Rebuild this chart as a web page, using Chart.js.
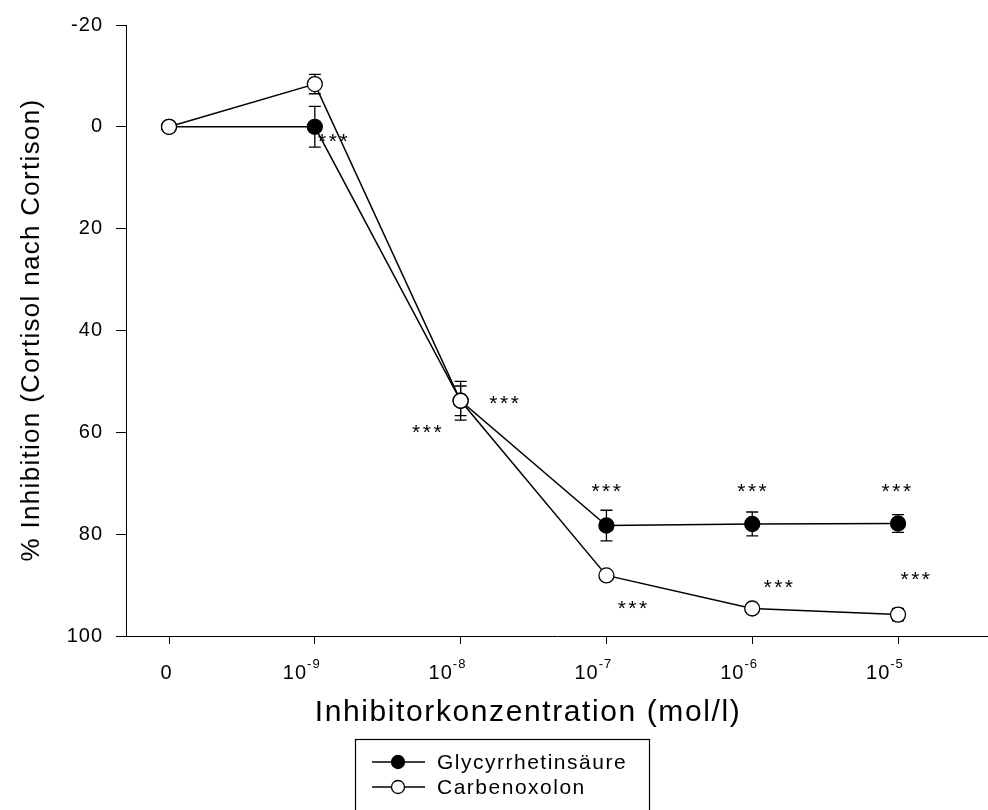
<!DOCTYPE html>
<html>
<head>
<meta charset="utf-8">
<script src="https://cdn.jsdelivr.net/npm/chart.js@4.4.0/dist/chart.umd.min.js"></script>
<style>
  body { margin: 0; background: #fff; }
  #wrap { width: 988px; height: 810px; }
</style>
</head>
<body>
<div id="wrap"><canvas id="chart" width="988" height="810"></canvas></div>
<script>
// ================== DATA ==================
const xBase = ["0", "10", "10", "10", "10", "10"];
const xExp = ["", "-9", "-8", "-7", "-6", "-5"];

const glyName = "Glycyrrhetinsäure";
const glyVals = [0, 0, 53.8, 78.3, 78.0, 77.9];
const glyErr = [0, 4.0, 3.8, 3.0, 2.35, 1.75];

const carbName = "Carbenoxolon";
const carbVals = [0, -8.4, 53.8, 88.1, 94.6, 95.8];
const carbErr = [0, 1.9, 2.9, 0.8, 0.5, 1.2];

// "***" markers, in data units
const starX = [1.125, 2.30, 1.77, 3.00, 3.18, 4.00, 4.18, 4.99, 5.12];
const starY = [2.35, 53.9, 59.6, 71.2, 94.1, 71.2, 90.0, 71.2, 88.4];

const yTitle = "% Inhibition (Cortisol nach Cortison)";
const xTitle = "Inhibitorkonzentration (mol/l)";

const FONT = '"Liberation Sans", Arial, sans-serif';

// ================== HELPERS ==================
function pts(vals) {
  return vals.map((v, i) => ({ x: i, y: v }));
}

function drawMarker(ctx, x, y, r, fill) {
  ctx.beginPath();
  ctx.arc(x, y, r, 0, Math.PI * 2);
  ctx.fillStyle = fill;
  ctx.fill();
  ctx.lineWidth = 1.3;
  ctx.strokeStyle = "#000";
  ctx.stroke();
}

// ================== PLUGIN ==================
const extras = {
  id: "extras",
  beforeDraw(chart) {
    // spacing for the y tick labels drawn by Chart.js
    chart.ctx.letterSpacing = "1px";
  },
  beforeDatasetsDraw(chart) {
    const ctx = chart.ctx, xs = chart.scales.x, ys = chart.scales.y;
    ctx.save();
    ctx.strokeStyle = "#000";
    ctx.lineWidth = 1.3;
    [[glyVals, glyErr], [carbVals, carbErr]].forEach(([vals, errs]) => {
      vals.forEach((v, i) => {
        if (!errs[i]) return;
        const x = xs.getPixelForValue(i);
        const y1 = ys.getPixelForValue(v - errs[i]);
        const y2 = ys.getPixelForValue(v + errs[i]);
        ctx.beginPath();
        ctx.moveTo(x, y1); ctx.lineTo(x, y2);
        ctx.moveTo(x - 6, y1); ctx.lineTo(x + 6, y1);
        ctx.moveTo(x - 6, y2); ctx.lineTo(x + 6, y2);
        ctx.stroke();
      });
    });
    ctx.restore();
  },
  afterDraw(chart) {
    const ctx = chart.ctx, xs = chart.scales.x, ys = chart.scales.y;
    ctx.save();
    ctx.fillStyle = "#000";

    // stars
    ctx.font = "21px " + FONT;
    ctx.letterSpacing = "2.5px";
    ctx.textAlign = "center";
    ctx.textBaseline = "alphabetic";
    starX.forEach((sx, i) => {
      ctx.fillText("***", xs.getPixelForValue(sx) + 1, ys.getPixelForValue(starY[i]) + 9);
    });

    // x tick labels with exponent
    ctx.textAlign = "left";
    xBase.forEach((b, i) => {
      const tx = xs.getPixelForValue(i);
      ctx.font = "20px " + FONT;
      ctx.letterSpacing = "1px";
      const w = ctx.measureText(b).width;
      if (!xExp[i]) {
        ctx.fillText(b, tx - 3 - w / 2 + 0.5, 679);
        return;
      }
      const x0 = tx - 32;
      ctx.fillText(b, x0, 679);
      ctx.font = "13px " + FONT;
      ctx.letterSpacing = "1px";
      ctx.fillText(xExp[i], x0 + w, 668);
    });

    // axis titles
    ctx.font = "30px " + FONT;
    ctx.letterSpacing = "1.6px";
    ctx.textAlign = "center";
    ctx.fillText(xTitle, 528, 721);

    ctx.save();
    ctx.translate(39, 330);
    ctx.rotate(-Math.PI / 2);
    ctx.font = "26px " + FONT;
    ctx.letterSpacing = "1.3px";
    ctx.fillText(yTitle, 0, 0);
    ctx.restore();

    // legend
    ctx.strokeStyle = "#000";
    ctx.lineWidth = 1.2;
    ctx.strokeRect(355.5, 739.5, 294, 80);
    [[glyName, "#000", 762], [carbName, "#fff", 787]].forEach(([name, fill, y]) => {
      ctx.beginPath();
      ctx.moveTo(372, y); ctx.lineTo(425, y);
      ctx.lineWidth = 1.4;
      ctx.stroke();
      drawMarker(ctx, 398, y, 6.5, fill);
      ctx.fillStyle = "#000";
      ctx.font = "21px " + FONT;
      ctx.letterSpacing = "1.5px";
      ctx.textAlign = "left";
      ctx.textBaseline = "middle";
      ctx.fillText(name, 437, y + 1);
    });

    ctx.restore();
  }
};

// ================== CHART ==================
const ctx = document.getElementById("chart").getContext("2d");

new Chart(ctx, {
  type: "line",
  data: {
    datasets: [
      {
        label: carbName, data: pts(carbVals), order: 0,
        borderColor: "#000", borderWidth: 1.5,
        pointRadius: 7.5, pointBorderWidth: 1.3,
        pointBackgroundColor: "#fff", pointBorderColor: "#000",
        tension: 0, clip: false
      },
      {
        label: glyName, data: pts(glyVals), order: 1,
        borderColor: "#000", borderWidth: 1.5,
        pointRadius: 7.5, pointBorderWidth: 1.3,
        pointBackgroundColor: "#000", pointBorderColor: "#000",
        tension: 0, clip: false
      }
    ]
  },
  options: {
    responsive: false,
    animation: false,
    layout: { autoPadding: false, padding: { top: 24, left: 0, right: 0, bottom: 0 } },
    plugins: { legend: { display: false }, tooltip: { enabled: false } },
    scales: {
      x: {
        type: "linear",
        min: -0.295,
        max: 5.617,
        afterBuildTicks: s => { s.ticks = xBase.map((_, i) => ({ value: i })); },
        afterFit: s => { s.height = 174; },
        grid: { drawOnChartArea: false, tickLength: 8, tickColor: "#000", tickWidth: 1 },
        border: { color: "#000", width: 1 },
        ticks: { display: false }
      },
      y: {
        reverse: true,
        min: -20,
        max: 100,
        afterFit: s => { s.width = 126; },
        grid: { drawOnChartArea: false, tickLength: 10, tickColor: "#000", tickWidth: 1 },
        border: { color: "#000", width: 1 },
        ticks: {
          stepSize: 20,
          padding: 13,
          color: "#000",
          font: { family: FONT, size: 20 }
        }
      }
    }
  },
  plugins: [extras]
});
</script>
</body>
</html>
